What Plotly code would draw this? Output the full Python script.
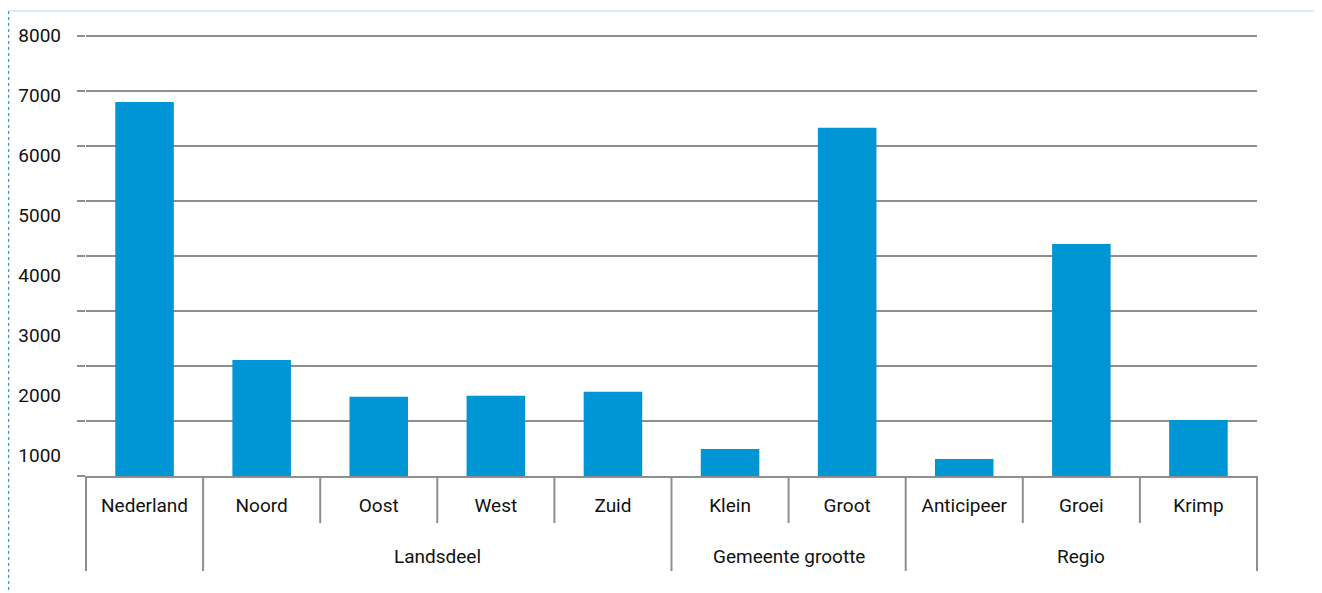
import plotly.graph_objects as go

categories = ["Nederland", "Noord", "Oost", "West", "Zuid", "Klein", "Groot", "Anticipeer", "Groei", "Krimp"]
groups = ["", "Landsdeel", "Landsdeel", "Landsdeel", "Landsdeel",
          "Gemeente grootte", "Gemeente grootte", "Regio", "Regio", "Regio"]
values = [6800, 2110, 1440, 1460, 1530, 490, 6330, 310, 4220, 1020]
grid_ticks = [0, 1000, 2000, 3000, 4000, 5000, 6000, 7000, 8000]
label_ticks = [1000, 2000, 3000, 4000, 5000, 6000, 7000, 8000]

FONT = "Roboto, Liberation Sans, sans-serif"
FSIZE = 19
GREY = "#8e8e8e"
BLUE = "#0096d6"
TXT = "#111111"

# page is offset by the 8px body margin
W, H = 1314, 585
ML, MR, MT, MB = 78, 65, 24, 117
plot_w = W - ML - MR
plot_h = H - MT - MB


def px_x(fx):
    return (fx - ML) / plot_w


def px_y(fy):
    return (H - MB - fy) / plot_h


tfont = dict(family=FONT, size=FSIZE, color=TXT, weight=400)

fig = go.Figure()
fig.add_trace(go.Bar(x=categories, y=values, marker_color=BLUE,
                     marker_line_width=0, hoverinfo="skip"))
fig.add_trace(go.Scatter(x=[], y=[], yaxis="y2", showlegend=False))

n = len(categories)
shapes = []
annotations = []
# separators: long at group boundaries and ends, short inside groups
for i in range(n + 1):
    edge = i == 0 or i == n or groups[i - 1] != groups[i]
    depth = 95 if edge else 47
    shapes.append(dict(type="line", xref="paper", yref="paper",
                       x0=i / n, x1=i / n, y0=0, y1=-depth / plot_h,
                       line=dict(color=GREY, width=2)))
# group labels
start = 0
for i in range(1, n + 1):
    if i == n or groups[i] != groups[start]:
        if groups[start]:
            annotations.append(dict(text=groups[start], xref="paper", yref="paper",
                                    x=(start + i) / 2 / n, y=-80 / plot_h,
                                    xanchor="center", yanchor="middle",
                                    showarrow=False, font=tfont))
        start = i

# frame around the chart area
shapes.append(dict(type="line", xref="paper", yref="paper",
                   x0=px_x(0.5), x1=px_x(0.5), y0=px_y(3), y1=px_y(H + 5),
                   line=dict(color="#2f9be0", width=1.5, dash="dot")))
shapes.append(dict(type="line", xref="paper", yref="paper",
                   x0=px_x(0.5), x1=px_x(1309), y0=px_y(3), y1=px_y(3),
                   line=dict(color="#b5d8ef", width=1)))
shapes.append(dict(type="line", xref="paper", yref="paper",
                   x0=px_x(1309), x1=px_x(1309), y0=px_y(3), y1=px_y(H + 5),
                   line=dict(color="#e3eef5", width=1.5, dash="dot")))

fig.update_layout(
    width=W, height=H,
    margin=dict(l=ML, r=MR, t=MT, b=MB, autoexpand=False),
    paper_bgcolor="white", plot_bgcolor="white",
    showlegend=False,
    bargap=0.5,
    font=tfont,
    xaxis=dict(type="category", showgrid=False, showline=True,
               linecolor=GREY, linewidth=2, ticks="", ticklabelstandoff=11,
               automargin=False, tickfont=tfont),
    yaxis=dict(range=[0, plot_h / 55 * 1000], tickvals=grid_ticks,
               showticklabels=False, showgrid=True, gridcolor=GREY,
               gridwidth=2, ticks="outside", ticklen=8, tickcolor=GREY,
               tickwidth=2, zeroline=False, showline=False, automargin=False),
    yaxis2=dict(overlaying="y", side="left",
                range=[8000 - (plot_h - 3) / 60 * 1000, 8000 + 3 / 60 * 1000],
                tickvals=label_ticks, showgrid=False, zeroline=False,
                showline=False, ticks="", ticklabelstandoff=24, automargin=False,
                tickfont=tfont),
    shapes=shapes,
    annotations=annotations,
)

fig.write_html("out.html")
